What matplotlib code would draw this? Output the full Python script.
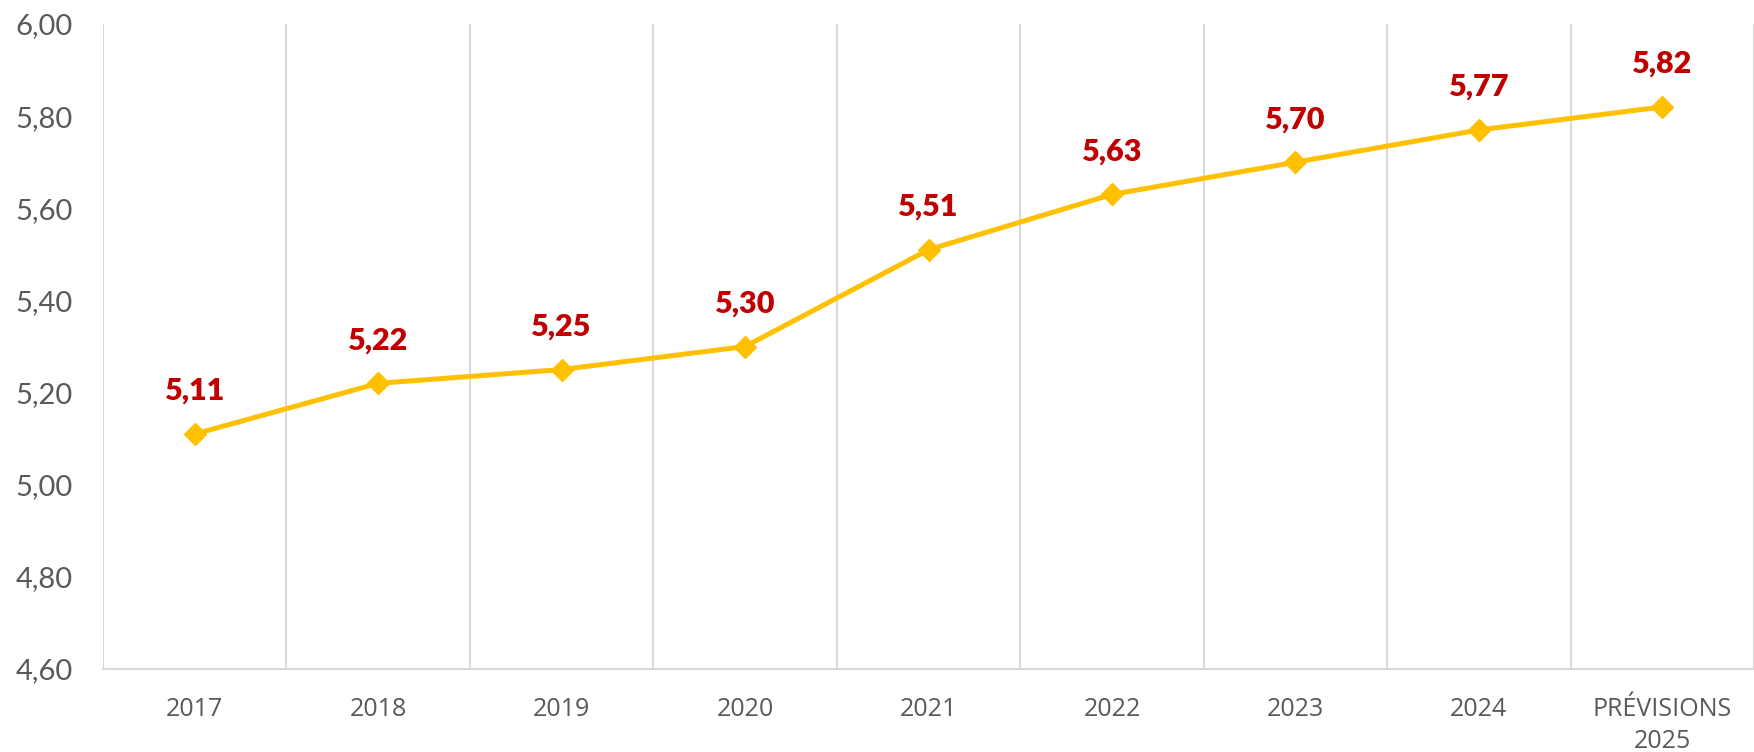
import matplotlib
matplotlib.use("Agg")
import matplotlib.pyplot as plt
import numpy as np

# données
categories = ["2017", "2018", "2019", "2020", "2021", "2022", "2023", "2024", "PRÉVISIONS\n2025"]
valeurs = [5.11, 5.22, 5.25, 5.30, 5.51, 5.63, 5.70, 5.77, 5.82]
yticks = [4.60, 4.80, 5.00, 5.20, 5.40, 5.60, 5.80, 6.00]

plt.rcParams['font.family'] = ['Lato', 'DejaVu Sans']

W, H = 1754, 752
fig = plt.figure(figsize=(W/100, H/100), dpi=100)
fig.patch.set_facecolor("white")
ax = fig.add_axes([103/W, (H-669)/H, (W-103)/W, (669-24)/H])

x = np.arange(len(categories))
ax.plot(x, valeurs, color="#FFC000", lw=3.6, marker="D", ms=11, zorder=3)

for xi, v in zip(x, valeurs):
    ax.annotate(("%.2f" % v).replace(".", ","), (xi, v), xytext=(0, 21),
                textcoords="offset points", ha="center", va="bottom",
                color="#C00000", fontsize=22, fontweight="heavy")

ax.set_xlim(-0.5, len(categories)-0.5)
ax.set_ylim(4.60, 6.00)
ax.set_yticks(yticks)
ax.set_yticklabels([("%.2f" % t).replace(".", ",") for t in yticks])
ax.set_xticks(x)
ax.set_xticklabels(categories, family=["Open Sans", "DejaVu Sans"], linespacing=1.4)
ax.set_xticks(np.arange(-0.5, len(categories)), minor=True)

# grille verticale entre catégories
ax.grid(which="minor", axis="x", color="#D9D9D9", lw=1.5)
ax.tick_params(which="both", length=0)
ax.tick_params(axis="x", pad=20, labelsize=18, colors="#595959")
ax.tick_params(axis="y", pad=22, labelsize=21, colors="#595959")

for s in ["top", "right", "left"]:
    ax.spines[s].set_visible(False)
ax.spines["bottom"].set_color("#D9D9D9")
ax.spines["bottom"].set_linewidth(1.5)

fig.savefig("out.png", dpi=100, facecolor="white")
